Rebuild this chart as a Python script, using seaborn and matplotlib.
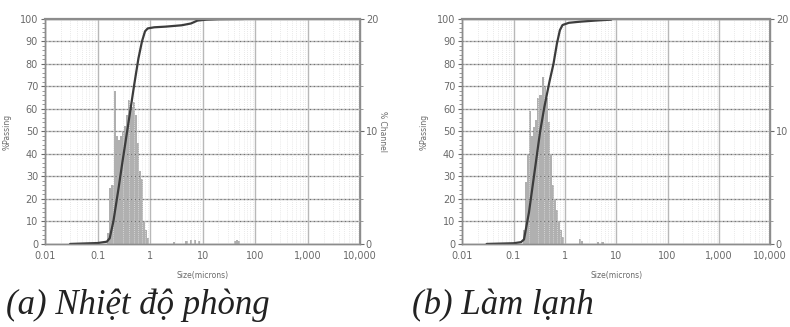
import numpy as np
import pandas as pd
import matplotlib
matplotlib.use('Agg')
import matplotlib.pyplot as plt
import seaborn as sns
from matplotlib.ticker import FixedLocator, FuncFormatter, MultipleLocator, LogLocator, NullFormatter


# DATA - (a) room temperature
size_a = [0.16, 0.175, 0.192, 0.21, 0.23, 0.252, 0.276, 0.302, 0.331, 0.363, 0.398,
          0.436, 0.478, 0.524, 0.574, 0.629, 0.69, 0.756, 0.828, 0.91,
          2.7, 5.0, 5.8, 6.9, 8.3, 40.0, 45.0, 50.0]
chan_a = [1.0, 5.0, 5.2, 13.6, 9.6, 9.2, 9.6, 10.0, 10.5, 11.5, 12.8,
          12.2, 12.6, 11.5, 9.0, 6.5, 5.8, 2.0, 1.2, 0.5,
          0.2, 0.3, 0.35, 0.35, 0.3, 0.3, 0.35, 0.25]
cum_x_a = [0.03, 0.1, 0.15, 0.17, 0.2, 0.25, 0.3, 0.4, 0.5, 0.6, 0.7, 0.8, 0.9,
           1.2, 2.0, 4.0, 6.0, 8.0, 12.0, 20.0, 60.0]
cum_y_a = [0.0, 0.4, 1.0, 2.5, 10.0, 24.5, 37.0, 56.0, 71.0, 82.5, 90.0, 94.5, 95.8,
           96.3, 96.6, 97.2, 98.0, 99.3, 99.7, 99.9, 100.0]

# DATA - (b) cooled
size_b = [0.16, 0.175, 0.192, 0.21, 0.23, 0.252, 0.276, 0.302, 0.331, 0.363, 0.398,
          0.436, 0.478, 0.524, 0.574, 0.629, 0.69, 0.756, 0.828, 0.91,
          1.9, 2.1, 4.5, 5.3]
chan_b = [1.2, 5.5, 8.0, 11.8, 9.6, 10.4, 11.0, 13.0, 13.2, 14.8, 14.0,
          13.0, 10.8, 8.0, 5.2, 4.0, 3.0, 2.0, 1.2, 0.6,
          0.4, 0.3, 0.2, 0.2]
cum_x_b = [0.03, 0.1, 0.14, 0.16, 0.2, 0.25, 0.33, 0.4, 0.5, 0.6, 0.7, 0.8, 0.9,
           1.2, 2.0, 4.0, 8.0]
cum_y_b = [0.0, 0.3, 0.8, 2.0, 14.0, 30.0, 50.0, 61.0, 72.0, 80.0, 89.0, 95.0, 97.3,
           98.3, 98.8, 99.3, 99.7]

xticks = [0.01, 0.1, 1, 10, 100, 1000, 10000]
xtick_labels = ['0.01', '0.1', '1', '10', '100', '1,000', '10,000']
captions = ['(a) Nhiệt độ phòng', '(b) Làm lạnh']

sns.set_style('white')
plt.rcParams['font.family'] = ['DejaVu Sans']

txt = '#6a6a6a'
grid_c = '#b8b8b8'


def panel(ax, sizes, chan, cx, cy, right_label=True):
    ax2 = ax.twinx()
    sns.histplot(x=sizes, weights=chan, binwidth=0.04, binrange=(-0.816, 2.0),
                 log_scale=True, color='#b0b0b0', alpha=1, linewidth=0, ax=ax2)
    ax2.set_ylim(0, 20)
    ax2.yaxis.set_major_locator(FixedLocator([0, 10, 20]))
    ax2.yaxis.set_minor_locator(MultipleLocator(2))
    # in (b) the right-hand label falls outside the picture
    ax2.set_ylabel('% Channel' if right_label else '', rotation=270, fontsize=5.5,
                   color=txt, labelpad=6)
    ax2.tick_params(axis='y', which='major', labelsize=7, colors=txt, length=3, pad=1)
    ax2.tick_params(axis='y', which='minor', length=2, colors='#888')

    ax.set_zorder(ax2.get_zorder() + 1)
    ax.patch.set_visible(False)

    sns.lineplot(x=cx, y=cy, ax=ax, color='#3c3c3c', lw=1.6)
    ax.set_xscale('log')
    ax.set_xlim(0.01, 10000)
    ax.set_ylim(0, 100)
    ax.xaxis.set_major_locator(FixedLocator(xticks))
    ax.xaxis.set_major_formatter(FuncFormatter(lambda v, p: xtick_labels[xticks.index(v)] if v in xticks else ''))
    ax.xaxis.set_minor_locator(LogLocator(base=10, subs=np.arange(2, 10), numticks=20))
    ax.xaxis.set_minor_formatter(NullFormatter())
    ax.yaxis.set_major_locator(MultipleLocator(10))
    ax.yaxis.set_minor_locator(MultipleLocator(2))

    ax.grid(which='major', axis='both', color=grid_c, lw=1.0, ls='-')
    ax.grid(which='minor', axis='x', color='#e2e2e2', lw=0.6, ls=(0, (1, 1.5)))
    for v in range(10, 100, 10):
        ax.axhline(v, color='#707070', lw=0.8, ls=(0, (1, 2.5)), zorder=1)

    ax.tick_params(axis='both', which='major', labelsize=7, colors=txt, length=3, pad=2)
    ax.tick_params(axis='both', which='minor', length=2, colors='#888')
    ax.set_xlabel('Size(microns)', fontsize=5.5, color=txt, labelpad=7)
    ax.set_ylabel('%Passing', fontsize=5.5, color=txt, labelpad=6)
    for a in (ax, ax2):
        for s in a.spines.values():
            s.set_color('#8c8c8c')
            s.set_linewidth(1.0)
    ax.spines['top'].set_linewidth(1.6)
    ax2.spines['right'].set_linewidth(1.4)


fig = plt.figure(figsize=(7.9, 3.27), dpi=100)
ax_a = fig.add_axes([0.057, 0.254, 0.399, 0.688])
ax_b = fig.add_axes([0.585, 0.254, 0.39, 0.688])

panel(ax_a, size_a, chan_a, cum_x_a, cum_y_a)
panel(ax_b, size_b, chan_b, cum_x_b, cum_y_b, right_label=False)

fig.text(0.008, 0.04, captions[0], family='Liberation Serif', style='italic',
         fontsize=25, color='#222222', va='baseline')
fig.text(0.522, 0.04, captions[1], family='Liberation Serif', style='italic',
         fontsize=25, color='#222222', va='baseline')

fig.savefig('out.png', dpi=100)
